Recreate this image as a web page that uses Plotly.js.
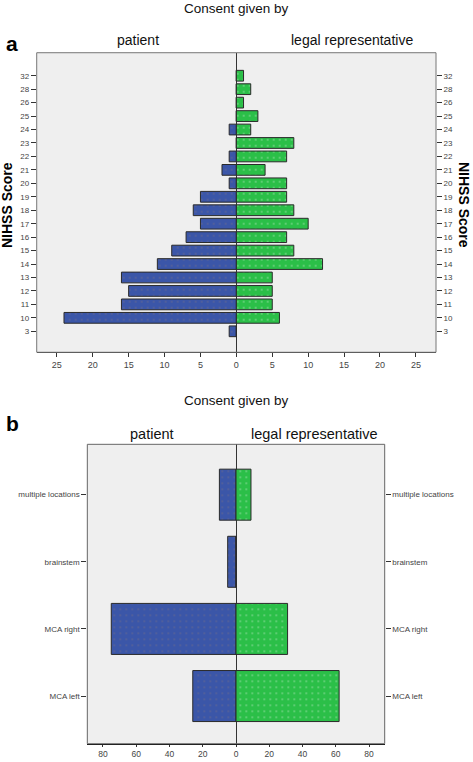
<!DOCTYPE html>
<html>
<head>
<meta charset="utf-8">
<script src="https://cdn.plot.ly/plotly-3.0.1.min.js"></script>
<style>html,body{margin:0;padding:0;background:#fff;}#chart{width:473px;height:762px;}</style>
</head>
<body>
<div id="chart"></div>
<script>
// Panel a: NIHSS score by consent
const nihssLabels = ['3','10','11','12','13','14','15','16','17','18','19','20','21','22','23','24','25','26','28','32'];
const nihssPatient = [1,24,16,15,16,11,9,7,5,6,5,1,2,1,0,1,0,0,0,0];
const nihssLegal   = [0,6,5,5,5,12,8,7,10,8,7,7,4,7,8,2,3,1,2,1];
const xTicksA = [-25,-20,-15,-10,-5,0,5,10,15,20,25];

// Panel b: infarct location by consent
const locLabels = ['MCA left','MCA right','brainstem','multiple locations'];
const locPatient = [26,75,5,10];
const locLegal   = [62,31,0,9];
const xTicksB = [-80,-60,-40,-20,0,20,40,60,80];

const blue = '#3b56a8', green = '#2bbf48', edge = '#2a2a2a';
const idxA = nihssLabels.map((_, i) => i);
const idxB = locLabels.map((_, i) => i);
const neg = a => a.map(v => -v);
const absTxt = a => a.map(v => String(Math.abs(v)));

const pat = (bg, fg) => ({shape: '.', bgcolor: bg, fgcolor: fg, fgopacity: 0.6, size: 6, solidity: 0.06});

const traces = [
  {type:'bar', orientation:'h', x: neg(nihssPatient), y: idxA, xaxis:'x', yaxis:'y', width:0.8,
   marker:{color: blue, line:{color: edge, width:1}, pattern: pat(blue, '#8a7a7a')}, hoverinfo:'skip'},
  {type:'bar', orientation:'h', x: nihssLegal, y: idxA, xaxis:'x', yaxis:'y', width:0.8,
   marker:{color: green, line:{color: edge, width:1}, pattern: pat(green, '#e8f4ea')}, hoverinfo:'skip'},
  {type:'bar', orientation:'h', x: neg(locPatient), y: idxB, xaxis:'x2', yaxis:'y2', width:0.76,
   marker:{color: blue, line:{color: edge, width:1}, pattern: pat(blue, '#8a7a7a')}, hoverinfo:'skip'},
  {type:'bar', orientation:'h', x: locLegal, y: idxB, xaxis:'x2', yaxis:'y2', width:0.76,
   marker:{color: green, line:{color: edge, width:1}, pattern: pat(green, '#e8f4ea')}, hoverinfo:'skip'},
  {type:'scatter', mode:'markers', x:[0], y:[0], xaxis:'x', yaxis:'y3', marker:{opacity:0}, hoverinfo:'skip'},
  {type:'scatter', mode:'markers', x:[0], y:[0], xaxis:'x2', yaxis:'y4', marker:{opacity:0}, hoverinfo:'skip'}
];

const tickFont = {family:'Liberation Sans, Arial, sans-serif', size:8, color:'#444'};
const xTickFont = {family:'Liberation Sans, Arial, sans-serif', size:9, color:'#444'};

const yCommon = (vals, txt, rng, dom) => ({
  domain: dom, range: rng, tickmode:'array', tickvals: vals, ticktext: txt,
  ticks:'outside', ticklen:5, tickcolor:'#333', tickwidth:1,
  showgrid:false, zeroline:false, showline:false, tickfont: tickFont, automargin:false, fixedrange:true
});

const domAx = [0.0776, 0.9218], domAy = [0.5377, 0.9308];
const domBx = [0.1846, 0.8133], domBy = [0.0240, 0.4169];

const layout = {
  width:473, height:762, margin:{l:0,r:0,t:0,b:0},
  paper_bgcolor:'#ffffff', plot_bgcolor:'#efefef',
  showlegend:false, barmode:'overlay',
  font:{family:'Liberation Sans, Arial, sans-serif', color:'#111'},
  xaxis:{domain: domAx, anchor:'y', range:[-27.8,27.8], tickmode:'array', tickvals:xTicksA, ticktext:absTxt(xTicksA),
    ticks:'outside', ticklen:4, tickcolor:'#333', showgrid:false, zeroline:true, zerolinecolor:'#333', zerolinewidth:1,
    showline:true, linecolor:'#111', linewidth:1, tickfont:xTickFont, automargin:false, fixedrange:true},
  xaxis2:{domain: domBx, anchor:'y2', range:[-89.4,89.4], tickmode:'array', tickvals:xTicksB, ticktext:absTxt(xTicksB),
    ticks:'outside', ticklen:2, tickcolor:'#333', showgrid:false, zeroline:true, zerolinecolor:'#333', zerolinewidth:1,
    showline:true, linecolor:'#111', linewidth:1, tickfont:{family:'Liberation Sans, Arial, sans-serif', size:8.5, color:'#444'}, automargin:false, fixedrange:true},
  yaxis: Object.assign(yCommon(idxA, nihssLabels, [-1.56,20.71], domAy), {anchor:'x', side:'left'}),
  yaxis3: Object.assign(yCommon(idxA, nihssLabels, [-1.56,20.71], domAy), {anchor:'x', overlaying:'y', side:'right'}),
  yaxis2: Object.assign(yCommon(idxB, locLabels, [-0.71,3.75], domBy), {anchor:'x2', side:'left'}),
  yaxis4: Object.assign(yCommon(idxB, locLabels, [-0.71,3.75], domBy), {anchor:'x2', overlaying:'y2', side:'right'}),
  shapes:[
    {type:'rect', xref:'x domain', yref:'y domain', x0:0, x1:1, y0:0, y1:1, line:{color:'#777', width:1}, layer:'above'},
    {type:'rect', xref:'x2 domain', yref:'y2 domain', x0:0, x1:1, y0:0, y1:1, line:{color:'#666', width:1}, layer:'above'}
  ],
  annotations:[
    {text:'Consent given by', x:0.4996, y:1-8/762, xref:'paper', yref:'paper', showarrow:false, xanchor:'center', yanchor:'middle', borderpad:0, font:{size:13.5, color:'#111'}},
    {text:'<b>a</b>', x:4/473, y:1-44/762, xref:'paper', yref:'paper', showarrow:false, xanchor:'left', yanchor:'middle', font:{size:21, color:'#000'}},
    {text:'patient', x:137.7/473, y:1-40/762, xref:'paper', yref:'paper', showarrow:false, xanchor:'center', yanchor:'middle', font:{size:14, color:'#111'}},
    {text:'legal representative', x:352.3/473, y:1-40/762, xref:'paper', yref:'paper', showarrow:false, xanchor:'center', yanchor:'middle', font:{size:14, color:'#111'}},
    {text:'<b>NIHSS Score</b>', x:7/473, y:1-205/762, xref:'paper', yref:'paper', showarrow:false, textangle:-90, xanchor:'center', yanchor:'middle', borderpad:0, font:{size:14, color:'#000'}},
    {text:'<b>NIHSS Score</b>', x:464/473, y:1-205/762, xref:'paper', yref:'paper', showarrow:false, textangle:90, xanchor:'center', yanchor:'middle', borderpad:0, font:{size:14, color:'#000'}},
    {text:'Consent given by', x:236/473, y:1-400/762, xref:'paper', yref:'paper', showarrow:false, xanchor:'center', yanchor:'middle', font:{size:13.5, color:'#111'}},
    {text:'<b>b</b>', x:4/473, y:1-423/762, xref:'paper', yref:'paper', showarrow:false, xanchor:'left', yanchor:'middle', font:{size:21, color:'#000'}},
    {text:'patient', x:151.7/473, y:1-434.3/762, xref:'paper', yref:'paper', showarrow:false, xanchor:'center', yanchor:'middle', font:{size:14.5, color:'#111'}},
    {text:'legal representative', x:314.8/473, y:1-434.3/762, xref:'paper', yref:'paper', showarrow:false, xanchor:'center', yanchor:'middle', font:{size:14.5, color:'#111'}}
  ]
};

Plotly.newPlot('chart', traces, layout, {displayModeBar:false, staticPlot:true});
</script>
</body>
</html>
